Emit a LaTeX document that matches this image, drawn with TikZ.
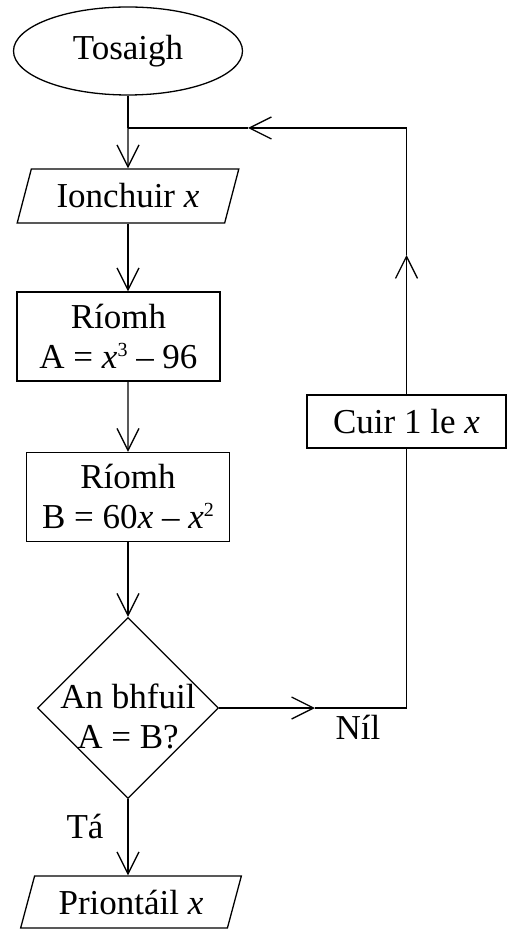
\documentclass[tikz,border=0pt]{standalone}
\usepackage{fontspec}
\setmainfont{Liberation Serif}
\usetikzlibrary{shapes.geometric,arrows.meta}

\newcommand{\pw}[1]{\raisebox{0.75ex}{\fontsize{10}{10}\selectfont #1}}

\begin{document}
\begin{tikzpicture}[
    x=0.5pt, y=-0.5pt,
    font=\fontsize{17.5}{20}\selectfont,
    line width=0.65pt,
    box/.style={draw, line width=0.65pt, inner sep=0pt, align=center},
    terminal/.style={box, ellipse, minimum width=114.5pt, minimum height=44pt},
    io/.style={box, trapezium, trapezium left angle=67, trapezium right angle=113,
      trapezium stretches=true, minimum width=111pt, minimum height=27pt},
    process/.style={box, rectangle, minimum width=101.5pt, minimum height=44.5pt},
    decision/.style={box, diamond, aspect=1, minimum size=90.5pt},
    flow/.style={-{Straight Barb[length=11pt, width=11pt]}}
  ]

  \useasboundingbox (0,0) rectangle (507,929);

  % Main column
  \node[terminal] (start) at (128,51) {Tosaigh};
  \node[io] (input) at (128,196) {Ionchuir \textit{x}};
  \node[process] (calcA) at (118.5,336.5) {Ríomh\\A = \textit{x}\pw{3} – 96};
  \node[process] (calcB) at (128,497) {Ríomh\\B = 60\textit{x} – \textit{x}\pw{2}};
  \node[decision, label={[align=center, yshift=-4pt]center:An bhfuil\\A = B?}] (check) at (128,708) {};
  \node[io, minimum height=26pt] (output) at (131,902) {Priontáil \textit{x}};

  % Loop back
  \node[process, minimum width=99.5pt, minimum height=26.5pt] (add) at (406.5,421.5) {Cuir 1 le \textit{x}};

  \coordinate (join) at (128,128);
  \coordinate (corner) at (406.5,128);
  \coordinate (nilTip) at (315,708);
  \coordinate (upTip) at (406.5,255);
  \coordinate (leftTip) at (248,128);

  \draw (start.south) -- (join);
  \draw[flow] (join) -- (input.north);
  \draw[flow] (input.south) -- (input.south |- calcA.north);
  \draw[flow] (input.south |- calcA.south) -- (calcB.north);
  \draw[flow] (calcB.south) -- (check.north);
  \draw[flow] (check.south) -- (check.south |- output.north);

  \draw[flow] (check.east) -- (nilTip);
  \draw (nilTip) -| (add.south);
  \draw[flow] (add.north) -- (upTip);
  \draw[flow] (upTip) |- (leftTip);
  \draw (leftTip) -- (join);

  % Labels
  \node (nil) at (358,727) {Níl};
  \node (ta) at (85,826) {Tá};

\end{tikzpicture}
\end{document}
